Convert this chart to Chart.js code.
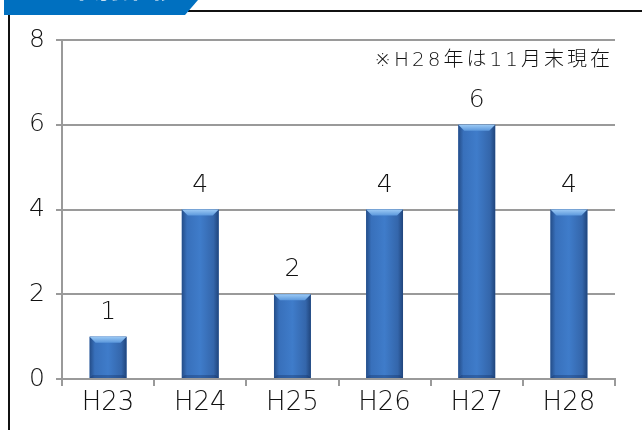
<!DOCTYPE html>
<html>
<head>
<meta charset="utf-8">
<script src="https://cdn.jsdelivr.net/npm/chart.js@4/dist/chart.umd.min.js"></script>
<style>
    html, body { margin: 0; padding: 0; background: #fff; }
    #wrap { position: relative; width: 642px; height: 430px; overflow: hidden; }
    #chart { position: absolute; left: 0; top: 0; }
</style>
</head>
<body>
<div id="wrap">
    <canvas id="chart" width="642" height="430"></canvas>
</div>
<script>
// Data
const categories = ['H23', 'H24', 'H25', 'H26', 'H27', 'H28'];
const counts = [1, 4, 2, 4, 6, 4];
const yTicks = [0, 2, 4, 6, 8];
const titleText = '年別推移';
const noteText = '※H28年は11月末現在';

const FONT = "'DejaVu Sans', 'Noto Sans CJK JP', sans-serif";
const CJK = "'Noto Sans CJK JP', sans-serif";

// Frame, tab and note
const framePlugin = {
    id: 'frame',
    beforeDraw(chart) {
        const ctx = chart.ctx;
        ctx.save();
        ctx.fillStyle = '#fff';
        ctx.fillRect(0, 0, chart.width, chart.height);

        // black frame lines
        ctx.strokeStyle = '#111';
        ctx.lineWidth = 2;
        ctx.beginPath();
        ctx.moveTo(188, 11);
        ctx.lineTo(chart.width, 11);
        ctx.moveTo(9, 14);
        ctx.lineTo(9, chart.height);
        ctx.stroke();

        // blue tab
        ctx.fillStyle = '#0070C0';
        ctx.beginPath();
        ctx.moveTo(4, 0);
        ctx.lineTo(198, 0);
        ctx.lineTo(185, 15);
        ctx.lineTo(4, 15);
        ctx.closePath();
        ctx.fill();

        // title text, mostly cut off above the page
        ctx.fillStyle = '#fff';
        ctx.font = "bold 28px " + CJK;
        ctx.textAlign = 'left';
        ctx.textBaseline = 'alphabetic';
        ctx.fillText(titleText, 66, -2);
        ctx.restore();
    },
    afterDraw(chart) {
        const ctx = chart.ctx;
        ctx.save();
        ctx.fillStyle = '#111';
        ctx.font = "200 20px " + FONT;
        ctx.letterSpacing = '3px';
        ctx.textAlign = 'right';
        ctx.textBaseline = 'middle';
        ctx.fillText(noteText, chart.chartArea.right - 2, 61);
        ctx.restore();
    }
};

// Bevelled bars + value labels
const barLook = {
    id: 'barLook',
    afterDatasetsDraw(chart) {
        const ctx = chart.ctx;
        const meta = chart.getDatasetMeta(0);
        ctx.save();
        meta.data.forEach((bar, i) => {
            const left = bar.x - bar.width / 2;
            const right = bar.x + bar.width / 2;
            const top = bar.y;
            const bottom = bar.base;
            const b = 6;

            const g = ctx.createLinearGradient(left, 0, right, 0);
            g.addColorStop(0, '#244d88');
            g.addColorStop(0.14, '#3870bb');
            g.addColorStop(0.5, '#3f7cca');
            g.addColorStop(0.86, '#3466ab');
            g.addColorStop(1, '#20457c');
            ctx.fillStyle = g;
            ctx.fillRect(left, top, right - left, bottom - top);

            // top bevel
            const tg = ctx.createLinearGradient(0, top, 0, top + b);
            tg.addColorStop(0, '#9ccaf5');
            tg.addColorStop(1, '#5c98dc');
            ctx.fillStyle = tg;
            ctx.beginPath();
            ctx.moveTo(left, top);
            ctx.lineTo(right, top);
            ctx.lineTo(right - b, top + b);
            ctx.lineTo(left + b, top + b);
            ctx.closePath();
            ctx.fill();

            // bottom shade
            ctx.fillStyle = 'rgba(20,50,100,0.35)';
            ctx.beginPath();
            ctx.moveTo(left, bottom);
            ctx.lineTo(right, bottom);
            ctx.lineTo(right - 3, bottom - 3);
            ctx.lineTo(left + 3, bottom - 3);
            ctx.closePath();
            ctx.fill();

            // value label
            ctx.fillStyle = '#111';
            ctx.font = "200 25px " + FONT;
            ctx.textAlign = 'center';
            ctx.textBaseline = 'alphabetic';
            ctx.fillText(String(counts[i]), bar.x, top - 18);
        });
        ctx.restore();
    }
};

new Chart(document.getElementById('chart').getContext('2d'), {
    type: 'bar',
    data: {
        labels: categories,
        datasets: [{
            data: counts,
            backgroundColor: '#3a72bd',
            borderWidth: 0,
            barPercentage: 0.4,
            categoryPercentage: 1
        }]
    },
    options: {
        responsive: false,
        animation: false,
        events: [],
        layout: { padding: { top: 40, right: 27, left: 0, bottom: 0 } },
        plugins: {
            legend: { display: false },
            tooltip: { enabled: false }
        },
        scales: {
            x: {
                offset: true,
                grid: {
                    offset: true,
                    drawOnChartArea: false,
                    drawTicks: true,
                    tickLength: 7,
                    color: '#9a9a9a',
                    lineWidth: 2
                },
                border: { color: '#9a9a9a', width: 2 },
                ticks: {
                    color: '#111',
                    font: { family: FONT, size: 26, weight: '200' },
                    padding: 2
                },
                afterFit(scale) { scale.height = 51; }
            },
            y: {
                min: 0,
                max: 8,
                afterBuildTicks(scale) { scale.ticks = yTicks.map(v => ({ value: v })); },
                grid: {
                    color: '#9a9a9a',
                    lineWidth: 2,
                    tickLength: 6
                },
                border: { color: '#9a9a9a', width: 2 },
                ticks: {
                    color: '#111',
                    font: { family: FONT, size: 25, weight: '200' },
                    padding: 11
                },
                afterFit(scale) { scale.width = 62; }
            }
        }
    },
    plugins: [framePlugin, barLook]
});
</script>
</body>
</html>
